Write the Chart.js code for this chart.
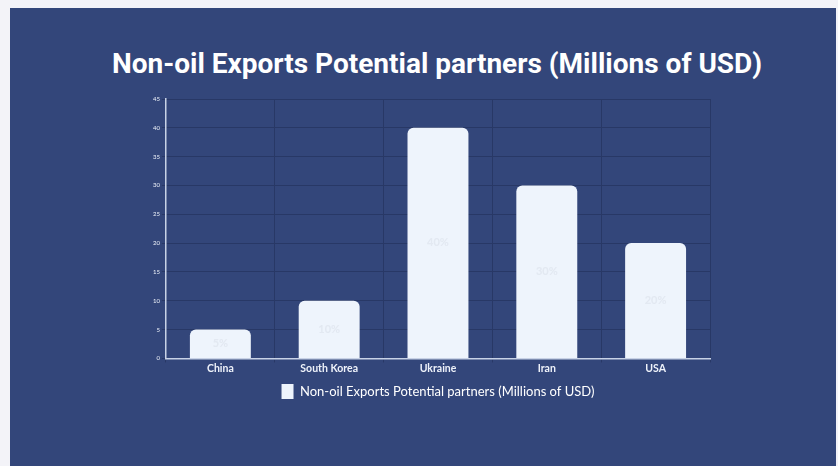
<!DOCTYPE html>
<html>
<head>
<meta charset="utf-8">
<script src="https://cdn.jsdelivr.net/npm/chart.js@4"></script>
<style>
  html, body { margin: 0; padding: 0; background: #f3f3f8; }
  body { width: 838px; height: 466px; position: relative; overflow: hidden; }
  #panel { position: absolute; left: 10px; top: 8px; width: 826px; height: 458px; background: #33467a; }
  #title {
    position: absolute; left: 0; top: 38px; width: 854px; margin: 0;
    text-align: center; color: #ffffff;
    font: bold 28px Roboto, sans-serif; line-height: 36px;
  }
  #chart { display: block; position: absolute; left: 0; top: 0; }
</style>
</head>
<body>
<div id="panel">
  <h1 id="title"></h1>
  <canvas id="chart" width="826" height="458"></canvas>
</div>
<script>
// Non-oil export partners, values in millions of USD
const partners = ["China", "South Korea", "Ukraine", "Iran", "USA"];
const exportValues = [5, 10, 40, 30, 20];
const shareLabels = ["5%", "10%", "40%", "30%", "20%"];
const seriesName = "Non-oil Exports Potential partners (Millions of USD)";

document.getElementById('title').textContent = seriesName;

// faint share text written in the middle of each bar
const barText = {
    id: 'barText',
    afterDatasetsDraw(chart) {
        const ctx = chart.ctx;
        const meta = chart.getDatasetMeta(0);
        ctx.save();
        ctx.font = 'bold 11px Lato';
        ctx.fillStyle = 'rgba(215, 222, 232, 0.5)';
        ctx.textAlign = 'center';
        ctx.textBaseline = 'middle';
        meta.data.forEach((bar, i) => {
            ctx.fillText(shareLabels[i], bar.x, (bar.y + bar.base) / 2);
        });
        ctx.restore();
    }
};

new Chart(document.getElementById('chart'), {
    type: 'bar',
    data: {
        labels: partners,
        datasets: [{
            label: seriesName,
            data: exportValues,
            backgroundColor: '#eef4fc',
            borderColor: '#eef4fc',
            borderWidth: 0,
            borderRadius: { topLeft: 6, topRight: 6 },
            borderSkipped: 'bottom',
            barPercentage: 0.7,
            categoryPercentage: 0.8
        }]
    },
    options: {
        responsive: false,
        animation: false,
        layout: { padding: { left: 141, right: 126, top: 91, bottom: 57 } },
        plugins: {
            title: { display: false },
            legend: {
                position: 'bottom',
                fullSize: false,
                labels: {
                    color: '#ffffff',
                    font: { family: 'Lato', size: 13 },
                    boxWidth: 12,
                    boxHeight: 15,
                    padding: 9
                }
            },
            tooltip: { enabled: false }
        },
        scales: {
            x: {
                grid: { color: '#283866', lineWidth: 1, tickLength: 4, offset: true },
                border: { color: '#c8d2e6', width: 1.5 },
                ticks: { color: '#eef2fa', font: { family: 'Lato', size: 10.5, weight: 'bold' }, padding: 0 }
            },
            y: {
                min: 0,
                max: 45,
                ticks: { stepSize: 5, color: '#eef2fa', font: { family: 'Lato', size: 6 }, padding: 2 },
                grid: { color: '#283866', lineWidth: 1, tickLength: 4 },
                border: { color: '#c8d2e6', width: 1.5 }
            }
        }
    },
    plugins: [barText]
});
</script>
</body>
</html>
